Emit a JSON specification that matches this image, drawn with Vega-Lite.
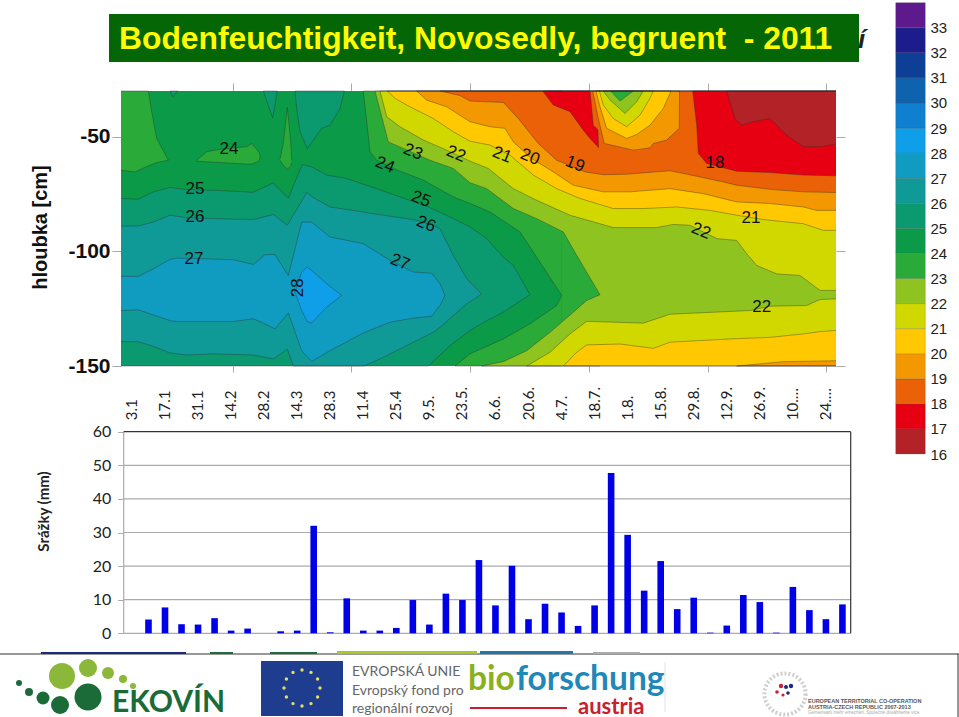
{"$schema":"https://vega.github.io/schema/vega-lite/v6.json","width":959,"height":717,"autosize":{"type":"none"},"padding":0,"background":"white","config":{"view":{"stroke":null},"axis":{"grid":false,"labelOverlap":false,"labelBound":false,"labelFlush":false}},
"datasets":{
"fill":[{"r":"a","b":"24","t":0,"y":-30,"y2":-150},{"r":"a","b":"24","t":715,"y":-30,"y2":-150},{"r":"b","b":"23","t":440.7,"y":-30,"y2":-150},{"r":"b","b":"23","t":479,"y":-30,"y2":-150},{"r":"c","b":"22","t":479,"y":-30,"y2":-150},{"r":"c","b":"22","t":715,"y":-30,"y2":-150}],
"bands":[
{"r":"r01","b":"23","t":0,"y":-30,"y2":-64.6},{"r":"r01","b":"23","t":14,"y":-30,"y2":-65.3},{"r":"r01","b":"23","t":27.3,"y":-30,"y2":-62.7},{"r":"r01","b":"23","t":30.7,"y":-39,"y2":-62.1},{"r":"r01","b":"23","t":35.7,"y":-50.7,"y2":-61.2},{"r":"r01","b":"23","t":47.3,"y":-60.2,"y2":-60.2},
{"r":"r02","b":"25","t":49,"y":-30,"y2":-30},{"r":"r02","b":"25","t":51.7,"y":-30,"y2":-32.5},{"r":"r02","b":"25","t":57,"y":-30,"y2":-30},
{"r":"r03","b":"23","t":75.7,"y":-60.3,"y2":-60.6},{"r":"r03","b":"23","t":85.7,"y":-56.5,"y2":-60.9},{"r":"r03","b":"23","t":99,"y":-55.4,"y2":-61.2},{"r":"r03","b":"23","t":125.7,"y":-54.3,"y2":-61.9},{"r":"r03","b":"23","t":130.7,"y":-52.9,"y2":-61.9},{"r":"r03","b":"23","t":138.3,"y":-56.8,"y2":-60.6},{"r":"r03","b":"23","t":139,"y":-58.7,"y2":-58.7},
{"r":"r04","b":"23","t":159,"y":-59.7,"y2":-60.2},{"r":"r04","b":"23","t":162.3,"y":-52.9,"y2":-62.4},{"r":"r04","b":"23","t":166.3,"y":-37.1,"y2":-64.1},{"r":"r04","b":"23","t":169.7,"y":-52.2,"y2":-62.7},{"r":"r04","b":"23","t":170.7,"y":-60.2,"y2":-61.2},
{"r":"r05","b":"25","t":142.3,"y":-30,"y2":-30},{"r":"r05","b":"25","t":151.7,"y":-30,"y2":-41.7},{"r":"r05","b":"25","t":156.3,"y":-30,"y2":-30},
{"r":"r06","b":"25","t":174,"y":-30,"y2":-30},{"r":"r06","b":"25","t":175.7,"y":-30,"y2":-37.6},{"r":"r06","b":"25","t":179,"y":-30,"y2":-47.8},{"r":"r06","b":"25","t":186.3,"y":-30,"y2":-55.1},{"r":"r06","b":"25","t":192.3,"y":-30,"y2":-51.4},{"r":"r06","b":"25","t":200.7,"y":-30,"y2":-46.3},{"r":"r06","b":"25","t":209,"y":-30,"y2":-44.9},{"r":"r06","b":"25","t":219,"y":-30,"y2":-37.6},{"r":"r06","b":"25","t":223.3,"y":-30,"y2":-30},
{"r":"r07","b":"25","t":0,"y":-76.9,"y2":-150},{"r":"r07","b":"25","t":17.3,"y":-77.2,"y2":-150},{"r":"r07","b":"25","t":32.3,"y":-74,"y2":-150},{"r":"r07","b":"25","t":49,"y":-72.1,"y2":-150},{"r":"r07","b":"25","t":65.7,"y":-73,"y2":-150},{"r":"r07","b":"25","t":92.3,"y":-73.3,"y2":-150},{"r":"r07","b":"25","t":132.3,"y":-74.2,"y2":-150},{"r":"r07","b":"25","t":152.3,"y":-70.1,"y2":-150},{"r":"r07","b":"25","t":167.3,"y":-76.7,"y2":-150},{"r":"r07","b":"25","t":181.3,"y":-62.1,"y2":-150},{"r":"r07","b":"25","t":190.7,"y":-63.1,"y2":-150},{"r":"r07","b":"25","t":205.7,"y":-66.7,"y2":-150},{"r":"r07","b":"25","t":225.7,"y":-68.2,"y2":-150},{"r":"r07","b":"25","t":255.7,"y":-72.6,"y2":-150},{"r":"r07","b":"25","t":279,"y":-76.2,"y2":-150},{"r":"r07","b":"25","t":307.3,"y":-80.6,"y2":-150},{"r":"r07","b":"25","t":329,"y":-85,"y2":-141.1},{"r":"r07","b":"25","t":349,"y":-89.3,"y2":-134.5},{"r":"r07","b":"25","t":365.7,"y":-94.4,"y2":-130.2},{"r":"r07","b":"25","t":382.3,"y":-102.5,"y2":-126.5},{"r":"r07","b":"25","t":392.3,"y":-106.1,"y2":-123.6},{"r":"r07","b":"25","t":409,"y":-118.9,"y2":-118.9},
{"r":"r08","b":"26","t":0,"y":-88.9,"y2":-139.4},{"r":"r08","b":"26","t":17.3,"y":-88.9,"y2":-139.4},{"r":"r08","b":"26","t":32.3,"y":-87.2,"y2":-141.4},{"r":"r08","b":"26","t":49,"y":-84.2,"y2":-144.3},{"r":"r08","b":"26","t":65.7,"y":-85.3,"y2":-145.2},{"r":"r08","b":"26","t":92.3,"y":-85.7,"y2":-144.7},{"r":"r08","b":"26","t":132.3,"y":-86.1,"y2":-145.2},{"r":"r08","b":"26","t":152.3,"y":-83.9,"y2":-146.9},{"r":"r08","b":"26","t":166.3,"y":-88.6,"y2":-142.6},{"r":"r08","b":"26","t":172.3,"y":-84.2,"y2":-150},{"r":"r08","b":"26","t":185.7,"y":-74.3,"y2":-150},{"r":"r08","b":"26","t":192.3,"y":-76.5,"y2":-150},{"r":"r08","b":"26","t":209,"y":-80.6,"y2":-150},{"r":"r08","b":"26","t":242.3,"y":-82.8,"y2":-150},{"r":"r08","b":"26","t":245.7,"y":-83.1,"y2":-149.6},{"r":"r08","b":"26","t":262.3,"y":-84.2,"y2":-146.2},{"r":"r08","b":"26","t":285.7,"y":-85.7,"y2":-141.1},{"r":"r08","b":"26","t":295.7,"y":-86.4,"y2":-138.9},{"r":"r08","b":"26","t":312.3,"y":-88.6,"y2":-135.3},{"r":"r08","b":"26","t":319,"y":-90.1,"y2":-133.1},{"r":"r08","b":"26","t":332.3,"y":-101.7,"y2":-128},{"r":"r08","b":"26","t":345.7,"y":-111.9,"y2":-122.9},{"r":"r08","b":"26","t":360.7,"y":-118.6,"y2":-118.6},
{"r":"r09","b":"27","t":0,"y":-110.9,"y2":-125.8},{"r":"r09","b":"27","t":17.3,"y":-110.9,"y2":-125.5},{"r":"r09","b":"27","t":32.3,"y":-107.6,"y2":-127.7},{"r":"r09","b":"27","t":49,"y":-103.5,"y2":-130.2},{"r":"r09","b":"27","t":55.7,"y":-102.9,"y2":-130.6},{"r":"r09","b":"27","t":112.3,"y":-103.6,"y2":-130.6},{"r":"r09","b":"27","t":132.3,"y":-105.7,"y2":-129.4},{"r":"r09","b":"27","t":144,"y":-101.4,"y2":-131.6},{"r":"r09","b":"27","t":154,"y":-101.4,"y2":-133.8},{"r":"r09","b":"27","t":167.3,"y":-110.5,"y2":-126.8},{"r":"r09","b":"27","t":180.7,"y":-87.2,"y2":-143.3},{"r":"r09","b":"27","t":190.7,"y":-87.2,"y2":-148},{"r":"r09","b":"27","t":209,"y":-93.7,"y2":-143.3},{"r":"r09","b":"27","t":242.3,"y":-96.6,"y2":-135.6},{"r":"r09","b":"27","t":269,"y":-103.9,"y2":-130.9},{"r":"r09","b":"27","t":292.3,"y":-109,"y2":-129.1},{"r":"r09","b":"27","t":310.7,"y":-109.5,"y2":-128.3},{"r":"r09","b":"27","t":319,"y":-114.1,"y2":-123.6},{"r":"r09","b":"27","t":324,"y":-119.2,"y2":-119.2},
{"r":"r10","b":"28","t":174,"y":-117.8,"y2":-117.8},{"r":"r10","b":"28","t":180.7,"y":-109,"y2":-125.8},{"r":"r10","b":"28","t":186.3,"y":-106.8,"y2":-130.6},{"r":"r10","b":"28","t":190.7,"y":-108.3,"y2":-131.2},{"r":"r10","b":"28","t":205.7,"y":-114.1,"y2":-124.3},{"r":"r10","b":"28","t":220.7,"y":-119.2,"y2":-119.2},
{"r":"r11","b":"23","t":242.3,"y":-30,"y2":-30},{"r":"r11","b":"23","t":249,"y":-30,"y2":-56.5},{"r":"r11","b":"23","t":255.7,"y":-30,"y2":-60.2},{"r":"r11","b":"23","t":272.3,"y":-30,"y2":-63.8},{"r":"r11","b":"23","t":302.3,"y":-30,"y2":-68.9},{"r":"r11","b":"23","t":332.3,"y":-30,"y2":-76.2},{"r":"r11","b":"23","t":349,"y":-30,"y2":-79.1},{"r":"r11","b":"23","t":369,"y":-30,"y2":-82.8},{"r":"r11","b":"23","t":399,"y":-30,"y2":-91.5},{"r":"r11","b":"23","t":412.3,"y":-30,"y2":-100.3},{"r":"r11","b":"23","t":440.7,"y":-30,"y2":-119.2},
{"r":"r12","b":"23","t":334,"y":-150,"y2":-150},{"r":"r12","b":"23","t":349,"y":-144.7,"y2":-150},{"r":"r12","b":"23","t":382.3,"y":-138.2,"y2":-150},{"r":"r12","b":"23","t":409,"y":-131.6,"y2":-150},{"r":"r12","b":"23","t":435.7,"y":-123.6,"y2":-150},{"r":"r12","b":"23","t":440.7,"y":-119.2,"y2":-150},
{"r":"r13","b":"22","t":254,"y":-30,"y2":-30},{"r":"r13","b":"22","t":267.3,"y":-30,"y2":-52.2},{"r":"r13","b":"22","t":284,"y":-30,"y2":-55.4},{"r":"r13","b":"22","t":309,"y":-30,"y2":-60.2},{"r":"r13","b":"22","t":332.3,"y":-30,"y2":-63.8},{"r":"r13","b":"22","t":349,"y":-30,"y2":-70},{"r":"r13","b":"22","t":365.7,"y":-30,"y2":-72.6},{"r":"r13","b":"22","t":392.3,"y":-30,"y2":-81.3},{"r":"r13","b":"22","t":415.7,"y":-30,"y2":-85.7},{"r":"r13","b":"22","t":442.3,"y":-30,"y2":-91.5},{"r":"r13","b":"22","t":455.7,"y":-30,"y2":-101.7},{"r":"r13","b":"22","t":479,"y":-30,"y2":-118.9},
{"r":"r14","b":"22","t":360.7,"y":-150,"y2":-150},{"r":"r14","b":"22","t":382.3,"y":-148.1,"y2":-150},{"r":"r14","b":"22","t":405.7,"y":-143.3,"y2":-150},{"r":"r14","b":"22","t":429,"y":-135.3,"y2":-150},{"r":"r14","b":"22","t":452.3,"y":-126.5,"y2":-150},{"r":"r14","b":"22","t":465.7,"y":-121.4,"y2":-150},{"r":"r14","b":"22","t":479,"y":-118.9,"y2":-150},
{"r":"r15","b":"21","t":259,"y":-30,"y2":-30},{"r":"r15","b":"21","t":265.7,"y":-30,"y2":-41.2},{"r":"r15","b":"21","t":279,"y":-30,"y2":-45.6},{"r":"r15","b":"21","t":302.3,"y":-30,"y2":-51.4},{"r":"r15","b":"21","t":325.7,"y":-30,"y2":-55.8},{"r":"r15","b":"21","t":349,"y":-30,"y2":-60.6},{"r":"r15","b":"21","t":367.3,"y":-30,"y2":-63.8},{"r":"r15","b":"21","t":392.3,"y":-30,"y2":-72.6},{"r":"r15","b":"21","t":415.7,"y":-30,"y2":-77.7},{"r":"r15","b":"21","t":449,"y":-30,"y2":-84.2},{"r":"r15","b":"21","t":492.3,"y":-30,"y2":-89.6},{"r":"r15","b":"21","t":535.7,"y":-30,"y2":-89.6},{"r":"r15","b":"21","t":552.3,"y":-30,"y2":-88.2},{"r":"r15","b":"21","t":569,"y":-30,"y2":-88.6},{"r":"r15","b":"21","t":595.7,"y":-30,"y2":-94.4},{"r":"r15","b":"21","t":615.7,"y":-30,"y2":-95.2},{"r":"r15","b":"21","t":625.7,"y":-30,"y2":-101},{"r":"r15","b":"21","t":635.7,"y":-30,"y2":-106.1},{"r":"r15","b":"21","t":655.7,"y":-30,"y2":-109.8},{"r":"r15","b":"21","t":679,"y":-30,"y2":-110.5},{"r":"r15","b":"21","t":699,"y":-30,"y2":-117},{"r":"r15","b":"21","t":715,"y":-30,"y2":-117},
{"r":"r16","b":"21","t":405.7,"y":-150,"y2":-150},{"r":"r16","b":"21","t":429,"y":-144,"y2":-150},{"r":"r16","b":"21","t":449,"y":-136,"y2":-150},{"r":"r16","b":"21","t":465.7,"y":-130.5,"y2":-150},{"r":"r16","b":"21","t":522.3,"y":-131.3,"y2":-150},{"r":"r16","b":"21","t":549,"y":-127.4,"y2":-150},{"r":"r16","b":"21","t":609,"y":-126.2,"y2":-150},{"r":"r16","b":"21","t":629,"y":-125.8,"y2":-150},{"r":"r16","b":"21","t":649,"y":-123.9,"y2":-150},{"r":"r16","b":"21","t":685.7,"y":-123.6,"y2":-150},{"r":"r16","b":"21","t":699,"y":-121,"y2":-150},{"r":"r16","b":"21","t":715,"y":-120.7,"y2":-150},
{"r":"r17","b":"20","t":266.3,"y":-30,"y2":-30},{"r":"r17","b":"20","t":274,"y":-30,"y2":-33.2},{"r":"r17","b":"20","t":289,"y":-30,"y2":-36.9},{"r":"r17","b":"20","t":312.3,"y":-30,"y2":-42},{"r":"r17","b":"20","t":332.3,"y":-30,"y2":-47.8},{"r":"r17","b":"20","t":349,"y":-30,"y2":-51.9},{"r":"r17","b":"20","t":369,"y":-30,"y2":-53.6},{"r":"r17","b":"20","t":389,"y":-30,"y2":-58},{"r":"r17","b":"20","t":412.3,"y":-30,"y2":-66.7},{"r":"r17","b":"20","t":435.7,"y":-30,"y2":-72.6},{"r":"r17","b":"20","t":459,"y":-30,"y2":-76.9},{"r":"r17","b":"20","t":492.3,"y":-30,"y2":-81.3},{"r":"r17","b":"20","t":522.3,"y":-30,"y2":-81.3},{"r":"r17","b":"20","t":555.7,"y":-30,"y2":-80.6},{"r":"r17","b":"20","t":589,"y":-30,"y2":-82.1},{"r":"r17","b":"20","t":615.7,"y":-30,"y2":-84.2},{"r":"r17","b":"20","t":642.3,"y":-30,"y2":-86.1},{"r":"r17","b":"20","t":682.3,"y":-30,"y2":-87.9},{"r":"r17","b":"20","t":702.3,"y":-30,"y2":-90.8},{"r":"r17","b":"20","t":715,"y":-30,"y2":-90.8},
{"r":"r18","b":"20","t":442.3,"y":-150,"y2":-150},{"r":"r18","b":"20","t":455.7,"y":-144,"y2":-150},{"r":"r18","b":"20","t":465.7,"y":-140.8,"y2":-150},{"r":"r18","b":"20","t":499,"y":-140.4,"y2":-150},{"r":"r18","b":"20","t":532.3,"y":-142.3,"y2":-150},{"r":"r18","b":"20","t":549,"y":-139.6,"y2":-150},{"r":"r18","b":"20","t":609,"y":-138.2,"y2":-150},{"r":"r18","b":"20","t":649,"y":-137.5,"y2":-150},{"r":"r18","b":"20","t":682.3,"y":-136,"y2":-150},{"r":"r18","b":"20","t":699,"y":-135,"y2":-150},{"r":"r18","b":"20","t":715,"y":-134.5,"y2":-150},
{"r":"r19","b":"19","t":295.7,"y":-30,"y2":-30},{"r":"r19","b":"19","t":305.7,"y":-30,"y2":-34},{"r":"r19","b":"19","t":325.7,"y":-30,"y2":-36.9},{"r":"r19","b":"19","t":349,"y":-30,"y2":-43.4},{"r":"r19","b":"19","t":369,"y":-30,"y2":-45.6},{"r":"r19","b":"19","t":384,"y":-30,"y2":-46.3},{"r":"r19","b":"19","t":392.3,"y":-30,"y2":-52.2},{"r":"r19","b":"19","t":410.7,"y":-30,"y2":-59.5},{"r":"r19","b":"19","t":432.3,"y":-30,"y2":-65.3},{"r":"r19","b":"19","t":452.3,"y":-30,"y2":-71.1},{"r":"r19","b":"19","t":482.3,"y":-30,"y2":-74},{"r":"r19","b":"19","t":509,"y":-30,"y2":-74},{"r":"r19","b":"19","t":549,"y":-30,"y2":-72.6},{"r":"r19","b":"19","t":582.3,"y":-30,"y2":-74.8},{"r":"r19","b":"19","t":615.7,"y":-30,"y2":-78.4},{"r":"r19","b":"19","t":649,"y":-30,"y2":-79.1},{"r":"r19","b":"19","t":682.3,"y":-30,"y2":-80.6},{"r":"r19","b":"19","t":695.7,"y":-30,"y2":-82.1},{"r":"r19","b":"19","t":715,"y":-30,"y2":-82.1},
{"r":"r20","b":"19","t":615.7,"y":-150,"y2":-150},{"r":"r20","b":"19","t":662.3,"y":-148.1,"y2":-150},{"r":"r20","b":"19","t":715,"y":-147.7,"y2":-150},
{"r":"r21","b":"18","t":319,"y":-30,"y2":-30},{"r":"r21","b":"18","t":339,"y":-30,"y2":-32},{"r":"r21","b":"18","t":349,"y":-30,"y2":-34.4},{"r":"r21","b":"18","t":382.3,"y":-30,"y2":-35},{"r":"r21","b":"18","t":397.3,"y":-30,"y2":-42},{"r":"r21","b":"18","t":417.3,"y":-30,"y2":-52.9},{"r":"r21","b":"18","t":435.7,"y":-30,"y2":-60.2},{"r":"r21","b":"18","t":464,"y":-30,"y2":-65.3},{"r":"r21","b":"18","t":482.3,"y":-30,"y2":-66.5},{"r":"r21","b":"18","t":505.7,"y":-30,"y2":-66.3},{"r":"r21","b":"18","t":549,"y":-30,"y2":-64.8},{"r":"r21","b":"18","t":579,"y":-30,"y2":-67.5},{"r":"r21","b":"18","t":602.3,"y":-30,"y2":-69.7},{"r":"r21","b":"18","t":615.7,"y":-30,"y2":-71.1},{"r":"r21","b":"18","t":649,"y":-30,"y2":-72.9},{"r":"r21","b":"18","t":682.3,"y":-30,"y2":-74},{"r":"r21","b":"18","t":715,"y":-30,"y2":-74.3},
{"r":"r22","b":"17","t":421.7,"y":-30,"y2":-30},{"r":"r22","b":"17","t":432.3,"y":-30,"y2":-36.1},{"r":"r22","b":"17","t":449,"y":-30,"y2":-39},{"r":"r22","b":"17","t":462.3,"y":-30,"y2":-47.1},{"r":"r22","b":"17","t":469,"y":-30,"y2":-50.7},{"r":"r22","b":"17","t":472.3,"y":-44.9,"y2":-52.2},{"r":"r22","b":"17","t":477,"y":-46.9,"y2":-54.4},{"r":"r22","b":"17","t":477.5,"y":-54.8,"y2":-54.8},
{"r":"r23","b":"19","t":471.7,"y":-30,"y2":-30},{"r":"r23","b":"19","t":477.3,"y":-30,"y2":-42},{"r":"r23","b":"19","t":483.3,"y":-30,"y2":-52.9},{"r":"r23","b":"19","t":495.7,"y":-30,"y2":-54.1},{"r":"r23","b":"19","t":512.3,"y":-30,"y2":-55.8},{"r":"r23","b":"19","t":529,"y":-30,"y2":-54.8},{"r":"r23","b":"19","t":532.3,"y":-30,"y2":-52.9},{"r":"r23","b":"19","t":545.7,"y":-30,"y2":-51.4},{"r":"r23","b":"19","t":558.3,"y":-30,"y2":-46.3},{"r":"r23","b":"19","t":558.5,"y":-30,"y2":-30},
{"r":"r24","b":"20","t":475,"y":-30,"y2":-30},{"r":"r24","b":"20","t":479,"y":-30,"y2":-36.9},{"r":"r24","b":"20","t":485.7,"y":-30,"y2":-46.3},{"r":"r24","b":"20","t":495.7,"y":-30,"y2":-48.5},{"r":"r24","b":"20","t":505.7,"y":-30,"y2":-50.7},{"r":"r24","b":"20","t":515.7,"y":-30,"y2":-49},{"r":"r24","b":"20","t":529,"y":-30,"y2":-44.9},{"r":"r24","b":"20","t":542.3,"y":-30,"y2":-37.6},{"r":"r24","b":"20","t":550,"y":-30,"y2":-30},
{"r":"r25","b":"21","t":478.3,"y":-30,"y2":-30},{"r":"r25","b":"21","t":482.3,"y":-30,"y2":-36.1},{"r":"r25","b":"21","t":492.3,"y":-30,"y2":-42},{"r":"r25","b":"21","t":505.7,"y":-30,"y2":-45.6},{"r":"r25","b":"21","t":519,"y":-30,"y2":-40.5},{"r":"r25","b":"21","t":529,"y":-30,"y2":-33.2},{"r":"r25","b":"21","t":532.3,"y":-30,"y2":-30},
{"r":"r26","b":"22","t":482.3,"y":-30,"y2":-30},{"r":"r26","b":"22","t":489,"y":-30,"y2":-33.9},{"r":"r26","b":"22","t":504,"y":-30,"y2":-39.8},{"r":"r26","b":"22","t":515.7,"y":-30,"y2":-34.7},{"r":"r26","b":"22","t":522.3,"y":-30,"y2":-30},
{"r":"r27","b":"23","t":489.7,"y":-30,"y2":-30},{"r":"r27","b":"23","t":499,"y":-30,"y2":-34.4},{"r":"r27","b":"23","t":512.3,"y":-30,"y2":-30},
{"r":"r28","b":"17","t":571.7,"y":-30,"y2":-30},{"r":"r28","b":"17","t":575.7,"y":-30,"y2":-44.9},{"r":"r28","b":"17","t":577.3,"y":-30,"y2":-57.3},{"r":"r28","b":"17","t":585.7,"y":-30,"y2":-61.6},{"r":"r28","b":"17","t":615.7,"y":-30,"y2":-65},{"r":"r28","b":"17","t":649,"y":-30,"y2":-65.6},{"r":"r28","b":"17","t":682.3,"y":-30,"y2":-66.7},{"r":"r28","b":"17","t":715,"y":-30,"y2":-67},
{"r":"r29","b":"16","t":605.7,"y":-30,"y2":-30},{"r":"r29","b":"16","t":614,"y":-30,"y2":-42},{"r":"r29","b":"16","t":620.7,"y":-30,"y2":-44.9},{"r":"r29","b":"16","t":632.3,"y":-30,"y2":-43.4},{"r":"r29","b":"16","t":649,"y":-30,"y2":-42},{"r":"r29","b":"16","t":665.7,"y":-30,"y2":-49.2},{"r":"r29","b":"16","t":682.3,"y":-30,"y2":-54.3},{"r":"r29","b":"16","t":699,"y":-30,"y2":-54.3},{"r":"r29","b":"16","t":715,"y":-30,"y2":-53.2}
],
"isolabels":[
{"k":"flat","t":108,"d":-55.3,"s":"24"},{"k":"flat","t":74,"d":-72.8,"s":"25"},{"k":"flat","t":74,"d":-85,"s":"26"},{"k":"flat","t":73,"d":-103.4,"s":"27"},{"k":"flat","t":594,"d":-61.4,"s":"18"},{"k":"flat","t":630,"d":-85.3,"s":"21"},{"k":"flat","t":640.7,"d":-124.3,"s":"22"},
{"k":"tilt","t":264,"d":-62.3,"s":"24"},{"k":"tilt","t":292,"d":-56.6,"s":"23"},{"k":"tilt","t":335,"d":-57.5,"s":"22"},{"k":"tilt","t":381,"d":-57.9,"s":"21"},{"k":"tilt","t":409,"d":-58.8,"s":"20"},{"k":"tilt","t":454,"d":-61.9,"s":"19"},{"k":"tilt","t":300,"d":-77.2,"s":"25"},{"k":"tilt","t":305,"d":-88.1,"s":"26"},{"k":"tilt","t":279,"d":-104.7,"s":"27"},{"k":"tilt","t":580,"d":-91.1,"s":"22"},
{"k":"up","t":177,"d":-115.9,"s":"28"}],
"legend":[{"v":16,"v2":17,"b":"16"},{"v":17,"v2":18,"b":"17"},{"v":18,"v2":19,"b":"18"},{"v":19,"v2":20,"b":"19"},{"v":20,"v2":21,"b":"20"},{"v":21,"v2":22,"b":"21"},{"v":22,"v2":23,"b":"22"},{"v":23,"v2":24,"b":"23"},{"v":24,"v2":25,"b":"24"},{"v":25,"v2":26,"b":"25"},{"v":26,"v2":27,"b":"26"},{"v":27,"v2":28,"b":"27"},{"v":28,"v2":29,"b":"28"},{"v":29,"v2":30,"b":"29"},{"v":30,"v2":31,"b":"30"},{"v":31,"v2":32,"b":"31"},{"v":32,"v2":33,"b":"32"},{"v":33,"v2":34,"b":"33"}],
"rain":[{"d":"3.1","mm":0},{"d":"10.1","mm":4.1},{"d":"17.1","mm":7.7},{"d":"24.1","mm":2.7},{"d":"31.1","mm":2.6},{"d":"7.2","mm":4.5},{"d":"14.2","mm":0.8},{"d":"21.2","mm":1.4},{"d":"28.2","mm":0},{"d":"7.3","mm":0.6},{"d":"14.3","mm":0.8},{"d":"21.3","mm":32},{"d":"28.3","mm":0.3},{"d":"4.4","mm":10.4},{"d":"11.4","mm":0.8},{"d":"18.4","mm":0.8},{"d":"25.4","mm":1.6},{"d":"2.5","mm":9.9},{"d":"9.5.","mm":2.6},{"d":"16.5.","mm":11.8},{"d":"23.5.","mm":9.9},{"d":"30.5.","mm":21.8},{"d":"6.6.","mm":8.3},{"d":"13.6.","mm":20.1},{"d":"20.6.","mm":4.2},{"d":"27.6.","mm":8.8},{"d":"4.7.","mm":6.2},{"d":"11.7.","mm":2.2},{"d":"18.7.","mm":8.3},{"d":"25.7.","mm":47.7},{"d":"1.8.","mm":29.3},{"d":"8.8.","mm":12.7},{"d":"15.8.","mm":21.5},{"d":"22.8.","mm":7.2},{"d":"29.8.","mm":10.6},{"d":"5.9.","mm":0.2},{"d":"12.9.","mm":2.3},{"d":"19.9.","mm":11.4},{"d":"26.9.","mm":9.3},{"d":"3.10.","mm":0.2},{"d":"10.…","mm":13.8},{"d":"17.10.","mm":6.9},{"d":"24.…","mm":4.2},{"d":"31.10.","mm":8.6}],
"frame":[{"a":0,"b":1,"v":0,"v2":0,"tone":"grid"},{"a":0,"b":1,"v":10,"v2":10,"tone":"grid"},{"a":0,"b":1,"v":20,"v2":20,"tone":"grid"},{"a":0,"b":1,"v":30,"v2":30,"tone":"grid"},{"a":0,"b":1,"v":40,"v2":40,"tone":"grid"},{"a":0,"b":1,"v":50,"v2":50,"tone":"grid"},{"a":0,"b":0,"v":0,"v2":60,"tone":"grid"},{"a":1,"b":1,"v":0,"v2":60,"tone":"edge"},{"a":0,"b":1,"v":60,"v2":60,"tone":"edge"}],
"boxes":[{"x0":109,"x1":859,"y0":14,"y1":62,"tone":"banner"},{"x0":0,"x1":959,"y0":653.5,"y1":654.5,"tone":"edge"},{"x0":957.5,"x1":958.5,"y0":654,"y1":717,"tone":"edge"},{"x0":261,"x1":343,"y0":661,"y1":716,"tone":"flag"},{"x0":41,"x1":186,"y0":652,"y1":654,"tone":"navy"},{"x0":210,"x1":233,"y0":652,"y1":654,"tone":"forest"},{"x0":270,"x1":317,"y0":652,"y1":654,"tone":"forest"},{"x0":337,"x1":477,"y0":651,"y1":654,"tone":"lime"},{"x0":480,"x1":573,"y0":651,"y1":654,"tone":"teal"},{"x0":593,"x1":640,"y0":652,"y1":654,"tone":"ash"},{"x0":470,"x1":567,"y0":707,"y1":709,"tone":"red"},{"x0":664.5,"x1":665.5,"y0":662,"y1":712,"tone":"pale"}],
"dots":[{"x":62,"y":676,"r":13,"tone":"leaf"},{"x":88,"y":668,"r":9,"tone":"leaf"},{"x":108,"y":673,"r":6,"tone":"leaf"},{"x":123,"y":679,"r":4,"tone":"leaf"},{"x":133,"y":686,"r":3,"tone":"leaf"},{"x":88,"y":697,"r":13.5,"tone":"pine"},{"x":60,"y":705,"r":9,"tone":"pine"},{"x":43,"y":698,"r":6.5,"tone":"pine"},{"x":29,"y":692,"r":4,"tone":"pine"},{"x":19,"y":683,"r":3,"tone":"pine"},{"x":302,"y":670,"r":1.7,"tone":"star"},{"x":311,"y":672.4,"r":1.7,"tone":"star"},{"x":317.6,"y":679,"r":1.7,"tone":"star"},{"x":320,"y":688,"r":1.7,"tone":"star"},{"x":317.6,"y":697,"r":1.7,"tone":"star"},{"x":311,"y":703.6,"r":1.7,"tone":"star"},{"x":302,"y":706,"r":1.7,"tone":"star"},{"x":293,"y":703.6,"r":1.7,"tone":"star"},{"x":286.4,"y":697,"r":1.7,"tone":"star"},{"x":284,"y":688,"r":1.7,"tone":"star"},{"x":286.4,"y":679,"r":1.7,"tone":"star"},{"x":293,"y":672.4,"r":1.7,"tone":"star"},{"x":781,"y":686,"r":2.2,"tone":"red"},{"x":777,"y":692,"r":1.8,"tone":"red"},{"x":786,"y":687,"r":2,"tone":"navy"},{"x":791,"y":686,"r":2.2,"tone":"navy"},{"x":788,"y":693,"r":1.8,"tone":"navy"},{"x":783,"y":695,"r":1.6,"tone":"red"}],
"words":[{"x":352,"y":672,"s":"EVROPSKÁ UNIE","g":"eu"},{"x":352,"y":691,"s":"Evropský fond pro","g":"eu"},{"x":352,"y":709,"s":"regionální rozvoj","g":"eu"},{"x":112,"y":703,"s":"EKOVÍN","g":"eko"},{"x":578,"y":706.5,"s":"austria","g":"aus"},{"x":808,"y":701,"s":"EUROPEAN TERRITORIAL CO-OPERATION","g":"etc"},{"x":808,"y":707,"s":"AUSTRIA-CZECH REPUBLIC 2007-2013","g":"etc"},{"x":808,"y":713,"s":"Gemeinsam mehr erreichen. Společně dosáhneme více.","g":"etc2"},{"x":119,"y":39,"s":"Bodenfeuchtigkeit, Novosedly, begruent\u00a0\u00a0- 2011","g":"head"},{"x":858,"y":40,"s":"í","g":"frag"}],
"logo":[{"x":468,"y":690,"s":"bio","tone":"bio"},{"x":516,"y":690,"s":"forschung","tone":"for"}],
"ring":[{"x":785,"y":694}]
},
"resolve":{"scale":{"x":"independent","y":"independent","color":"independent","size":"independent"}},
"layer":[
{"data":{"name":"fill"},"mark":{"type":"area","orient":"vertical"},"encoding":{
"x":{"field":"t","type":"quantitative","scale":{"domain":[0,715],"range":[121,836],"nice":false,"zero":false},"axis":{"orient":"top","offset":-91,"values":[111.7,230,349,468,587,705],"labels":false,"domain":false,"tickSize":8,"tickColor":"#aaaaaa","title":null}},
"y":{"field":"y","type":"quantitative","scale":{"domain":[-150,-30],"range":[366,91],"nice":false,"zero":false},"axis":{"orient":"left","offset":-121,"values":[-50,-100,-150],"labelExpr":"'-'+abs(datum.value)","domain":false,"tickSize":9,"tickColor":"#aaaaaa","labelPadding":2,"labelFont":"Liberation Sans","labelFontWeight":"bold","labelFontSize":21,"labelColor":"#111111","title":"hloubka [cm]","titleFont":"Liberation Sans","titleFontWeight":"bold","titleFontSize":20,"titleColor":"#111111","titleX":-71,"titleY":227,"titleAnchor":"middle","titleAlign":"center"}},
"y2":{"field":"y2"},"detail":{"field":"r"},
"color":{"field":"b","type":"nominal","legend":null,"scale":{"domain":["16","17","18","19","20","21","22","23","24","25","26","27","28","29","30","31","32","33"],"range":["#b22226","#e60012","#ea6108","#f39800","#ffc800","#d0d800","#8fc31f","#2aaa38","#0a9a48","#0b9a70","#0f9a98","#0f9cc0","#0f9fe8","#0f7fcf","#0f62ae","#0d3f96","#1c1c8c","#5e1a8c"]}}}},
{"data":{"name":"bands"},"mark":{"type":"area","orient":"vertical"},"encoding":{
"x":{"field":"t","type":"quantitative","scale":{"domain":[0,715],"range":[121,836],"nice":false,"zero":false},"axis":{"orient":"bottom","offset":-351,"values":[111.7,230,349,468,587,705],"labels":false,"domain":false,"tickSize":6,"tickColor":"#aaaaaa","title":null}},
"y":{"field":"y","type":"quantitative","scale":{"domain":[-150,-30],"range":[366,91],"nice":false,"zero":false},"axis":{"orient":"right","offset":-123,"values":[-50,-100,-150],"labels":false,"domain":false,"tickSize":9,"tickColor":"#aaaaaa","title":null}},
"y2":{"field":"y2"},"detail":{"field":"r"},
"color":{"field":"b","type":"nominal","legend":null,"scale":{"domain":["16","17","18","19","20","21","22","23","24","25","26","27","28","29","30","31","32","33"],"range":["#b22226","#e60012","#ea6108","#f39800","#ffc800","#d0d800","#8fc31f","#2aaa38","#0a9a48","#0b9a70","#0f9a98","#0f9cc0","#0f9fe8","#0f7fcf","#0f62ae","#0d3f96","#1c1c8c","#5e1a8c"]}}}},
{"data":{"name":"bands"},"mark":{"type":"line","stroke":"#2a2a2a","strokeWidth":0.5,"strokeOpacity":0.75},"encoding":{"x":{"field":"t","type":"quantitative","axis":null,"scale":{"domain":[0,715],"range":[121,836],"nice":false,"zero":false}},"y":{"field":"y","type":"quantitative","axis":null,"scale":{"domain":[-150,-30],"range":[366,91],"nice":false,"zero":false}},"detail":{"field":"r"}}},
{"data":{"name":"bands"},"mark":{"type":"line","stroke":"#2a2a2a","strokeWidth":0.5,"strokeOpacity":0.75},"encoding":{"x":{"field":"t","type":"quantitative","axis":null,"scale":{"domain":[0,715],"range":[121,836],"nice":false,"zero":false}},"y":{"field":"y2","type":"quantitative","axis":null,"scale":{"domain":[-150,-30],"range":[366,91],"nice":false,"zero":false}},"detail":{"field":"r"}}},
{"data":{"name":"isolabels"},"transform":[{"filter":"datum.k=='flat'"}],"mark":{"type":"text","font":"Liberation Sans","fontSize":17,"color":"#111111"},"encoding":{"x":{"field":"t","type":"quantitative","axis":null,"scale":{"domain":[0,715],"range":[121,836],"nice":false,"zero":false}},"y":{"field":"d","type":"quantitative","axis":null,"scale":{"domain":[-150,-30],"range":[366,91],"nice":false,"zero":false}},"text":{"field":"s"}}},
{"data":{"name":"isolabels"},"transform":[{"filter":"datum.k=='tilt'"}],"mark":{"type":"text","font":"Liberation Sans","fontSize":17,"color":"#111111","angle":22},"encoding":{"x":{"field":"t","type":"quantitative","axis":null,"scale":{"domain":[0,715],"range":[121,836],"nice":false,"zero":false}},"y":{"field":"d","type":"quantitative","axis":null,"scale":{"domain":[-150,-30],"range":[366,91],"nice":false,"zero":false}},"text":{"field":"s"}}},
{"data":{"name":"isolabels"},"transform":[{"filter":"datum.k=='up'"}],"mark":{"type":"text","font":"Liberation Sans","fontSize":17,"color":"#111111","angle":270},"encoding":{"x":{"field":"t","type":"quantitative","axis":null,"scale":{"domain":[0,715],"range":[121,836],"nice":false,"zero":false}},"y":{"field":"d","type":"quantitative","axis":null,"scale":{"domain":[-150,-30],"range":[366,91],"nice":false,"zero":false}},"text":{"field":"s"}}},
{"data":{"name":"legend"},"transform":[{"calculate":"0","as":"l"},{"calculate":"1","as":"h"}],"mark":{"type":"rect","stroke":"#555555","strokeWidth":0.4,"strokeOpacity":0.6},"encoding":{
"x":{"field":"l","type":"quantitative","axis":null,"scale":{"domain":[0,1],"range":[895.7,925.3],"nice":false,"zero":false}},"x2":{"field":"h"},
"y":{"field":"v","type":"quantitative","scale":{"domain":[16,34],"range":[454,2.7],"nice":false,"zero":false},"axis":{"orient":"right","offset":-33.5,"values":[16,17,18,19,20,21,22,23,24,25,26,27,28,29,30,31,32,33],"domain":false,"ticks":false,"labelPadding":4.5,"labelFont":"Liberation Sans","labelFontSize":15,"labelColor":"#222222","title":null}},"y2":{"field":"v2"},
"color":{"field":"b","type":"nominal","legend":null,"scale":{"domain":["16","17","18","19","20","21","22","23","24","25","26","27","28","29","30","31","32","33"],"range":["#b22226","#e60012","#ea6108","#f39800","#ffc800","#d0d800","#8fc31f","#2aaa38","#0a9a48","#0b9a70","#0f9a98","#0f9cc0","#0f9fe8","#0f7fcf","#0f62ae","#0d3f96","#1c1c8c","#5e1a8c"]}}}},
{"data":{"name":"frame"},"mark":{"type":"rule","strokeWidth":1.2},"encoding":{
"x":{"field":"a","type":"quantitative","axis":null,"scale":{"domain":[0,1],"range":[123.7,850.7],"nice":false,"zero":false}},"x2":{"field":"b"},
"y":{"field":"v","type":"quantitative","axis":null,"scale":{"domain":[0,60],"range":[633.3,431.7],"nice":false,"zero":false}},"y2":{"field":"v2"},
"color":{"field":"tone","type":"nominal","legend":null,"scale":{"domain":["grid","edge"],"range":["#ababab","#333333"]}}}},
{"data":{"name":"rain"},"mark":{"type":"bar","size":6.6,"color":"#0000e6"},"encoding":{
"x":{"field":"d","type":"ordinal","sort":null,"scale":{"type":"band","range":[123.7,850.7],"paddingInner":0,"paddingOuter":0},"axis":{"orient":"top","offset":-431.7,"values":["3.1","17.1","31.1","14.2","28.2","14.3","28.3","11.4","25.4","9.5.","23.5.","6.6.","20.6.","4.7.","18.7.","1.8.","15.8.","29.8.","12.9.","26.9.","10.…","24.…"],"domain":false,"ticks":false,"labelAngle":270,"labelPadding":12,"labelFont":"Lato","labelFontSize":15,"labelColor":"#222222","title":null}},
"y":{"field":"mm","type":"quantitative","scale":{"domain":[0,60],"range":[633.3,431.7],"nice":false,"zero":false},"axis":{"orient":"left","offset":-123.7,"values":[0,10,20,30,40,50,60],"domain":false,"tickSize":6,"tickColor":"#ababab","labelPadding":7,"labelFont":"Lato","labelFontSize":16,"labelColor":"#222222","title":"Srážky (mm)","titleFont":"Lato","titleFontWeight":"bold","titleFontSize":15,"titleColor":"#222222","titleX":-72,"titleY":511,"titleAnchor":"middle","titleAlign":"center"}}}},
{"data":{"name":"boxes"},"mark":{"type":"rect"},"encoding":{
"x":{"field":"x0","type":"quantitative","axis":null,"scale":{"domain":[0,959],"range":[0,959],"nice":false,"zero":false}},"x2":{"field":"x1"},
"y":{"field":"y0","type":"quantitative","axis":null,"scale":{"domain":[0,717],"range":[0,717],"nice":false,"zero":false}},"y2":{"field":"y1"},
"color":{"field":"tone","type":"nominal","legend":null,"scale":{"domain":["banner","edge","flag","navy","forest","lime","teal","ash","red","pale"],"range":["#056605","#333333","#1f3d8f","#1a2a80","#1f6b3a","#a9c92a","#1f78a8","#aaaaaa","#c8202e","#e4e4e4"]}}}},
{"data":{"name":"ring"},"mark":{"type":"point","filled":false,"size":1700,"stroke":"#bbbbbb","strokeWidth":4,"strokeDash":[2,2]},"encoding":{"x":{"field":"x","type":"quantitative","axis":null,"scale":{"domain":[0,959],"range":[0,959],"nice":false,"zero":false}},"y":{"field":"y","type":"quantitative","axis":null,"scale":{"domain":[0,717],"range":[0,717],"nice":false,"zero":false}}}},
{"data":{"name":"dots"},"mark":{"type":"point","filled":true,"opacity":1},"encoding":{"x":{"field":"x","type":"quantitative","axis":null,"scale":{"domain":[0,959],"range":[0,959],"nice":false,"zero":false}},"y":{"field":"y","type":"quantitative","axis":null,"scale":{"domain":[0,717],"range":[0,717],"nice":false,"zero":false}},
"size":{"field":"r","type":"quantitative","legend":null,"scale":{"type":"pow","exponent":2,"domain":[0,14],"range":[0,784],"zero":true}},
"color":{"field":"tone","type":"nominal","legend":null,"scale":{"domain":["leaf","pine","star","red","navy"],"range":["#8cb83a","#1a6b37","#e4e060","#c8202e","#1a2a80"]}}}},
{"data":{"name":"logo"},"mark":{"type":"text","align":"left","baseline":"alphabetic","font":"Lato","fontWeight":"bold","fontSize":33.5},"encoding":{"x":{"field":"x","type":"quantitative","axis":null,"scale":{"domain":[0,959],"range":[0,959],"nice":false,"zero":false}},"y":{"field":"y","type":"quantitative","axis":null,"scale":{"domain":[0,717],"range":[0,717],"nice":false,"zero":false}},"text":{"field":"s"},"color":{"field":"tone","type":"nominal","legend":null,"scale":{"domain":["bio","for"],"range":["#8ab020","#1f88b8"]}}}},
{"data":{"name":"words"},"transform":[{"filter":"datum.g=='head'"}],"mark":{"type":"text","align":"left","baseline":"middle","font":"Liberation Sans","fontWeight":"bold","fontSize":31.8,"color":"#ffff00"},"encoding":{"x":{"field":"x","type":"quantitative","axis":null,"scale":{"domain":[0,959],"range":[0,959],"nice":false,"zero":false}},"y":{"field":"y","type":"quantitative","axis":null,"scale":{"domain":[0,717],"range":[0,717],"nice":false,"zero":false}},"text":{"field":"s"}}},
{"data":{"name":"words"},"transform":[{"filter":"datum.g=='frag'"}],"mark":{"type":"text","align":"left","baseline":"middle","font":"Liberation Sans","fontWeight":"bold","fontStyle":"italic","fontSize":26,"color":"#222222"},"encoding":{"x":{"field":"x","type":"quantitative","axis":null,"scale":{"domain":[0,959],"range":[0,959],"nice":false,"zero":false}},"y":{"field":"y","type":"quantitative","axis":null,"scale":{"domain":[0,717],"range":[0,717],"nice":false,"zero":false}},"text":{"field":"s"}}},
{"data":{"name":"words"},"transform":[{"filter":"datum.g=='eu'"}],"mark":{"type":"text","align":"left","baseline":"middle","font":"Lato","fontSize":14,"color":"#666666"},"encoding":{"x":{"field":"x","type":"quantitative","axis":null,"scale":{"domain":[0,959],"range":[0,959],"nice":false,"zero":false}},"y":{"field":"y","type":"quantitative","axis":null,"scale":{"domain":[0,717],"range":[0,717],"nice":false,"zero":false}},"text":{"field":"s"}}},
{"data":{"name":"words"},"transform":[{"filter":"datum.g=='eko'"}],"mark":{"type":"text","align":"left","baseline":"middle","font":"Lato","fontWeight":"bold","fontSize":30,"color":"#1a6b37"},"encoding":{"x":{"field":"x","type":"quantitative","axis":null,"scale":{"domain":[0,959],"range":[0,959],"nice":false,"zero":false}},"y":{"field":"y","type":"quantitative","axis":null,"scale":{"domain":[0,717],"range":[0,717],"nice":false,"zero":false}},"text":{"field":"s"}}},
{"data":{"name":"words"},"transform":[{"filter":"datum.g=='aus'"}],"mark":{"type":"text","align":"left","baseline":"middle","font":"Lato","fontWeight":"bold","fontSize":22,"color":"#c8202e"},"encoding":{"x":{"field":"x","type":"quantitative","axis":null,"scale":{"domain":[0,959],"range":[0,959],"nice":false,"zero":false}},"y":{"field":"y","type":"quantitative","axis":null,"scale":{"domain":[0,717],"range":[0,717],"nice":false,"zero":false}},"text":{"field":"s"}}},
{"data":{"name":"words"},"transform":[{"filter":"datum.g=='etc'"}],"mark":{"type":"text","align":"left","baseline":"middle","font":"Liberation Sans","fontSize":5.5,"fontWeight":"bold","color":"#555555"},"encoding":{"x":{"field":"x","type":"quantitative","axis":null,"scale":{"domain":[0,959],"range":[0,959],"nice":false,"zero":false}},"y":{"field":"y","type":"quantitative","axis":null,"scale":{"domain":[0,717],"range":[0,717],"nice":false,"zero":false}},"text":{"field":"s"}}},
{"data":{"name":"words"},"transform":[{"filter":"datum.g=='etc2'"}],"mark":{"type":"text","align":"left","baseline":"middle","font":"Liberation Sans","fontSize":4.5,"color":"#aaaaaa"},"encoding":{"x":{"field":"x","type":"quantitative","axis":null,"scale":{"domain":[0,959],"range":[0,959],"nice":false,"zero":false}},"y":{"field":"y","type":"quantitative","axis":null,"scale":{"domain":[0,717],"range":[0,717],"nice":false,"zero":false}},"text":{"field":"s"}}}
]}
